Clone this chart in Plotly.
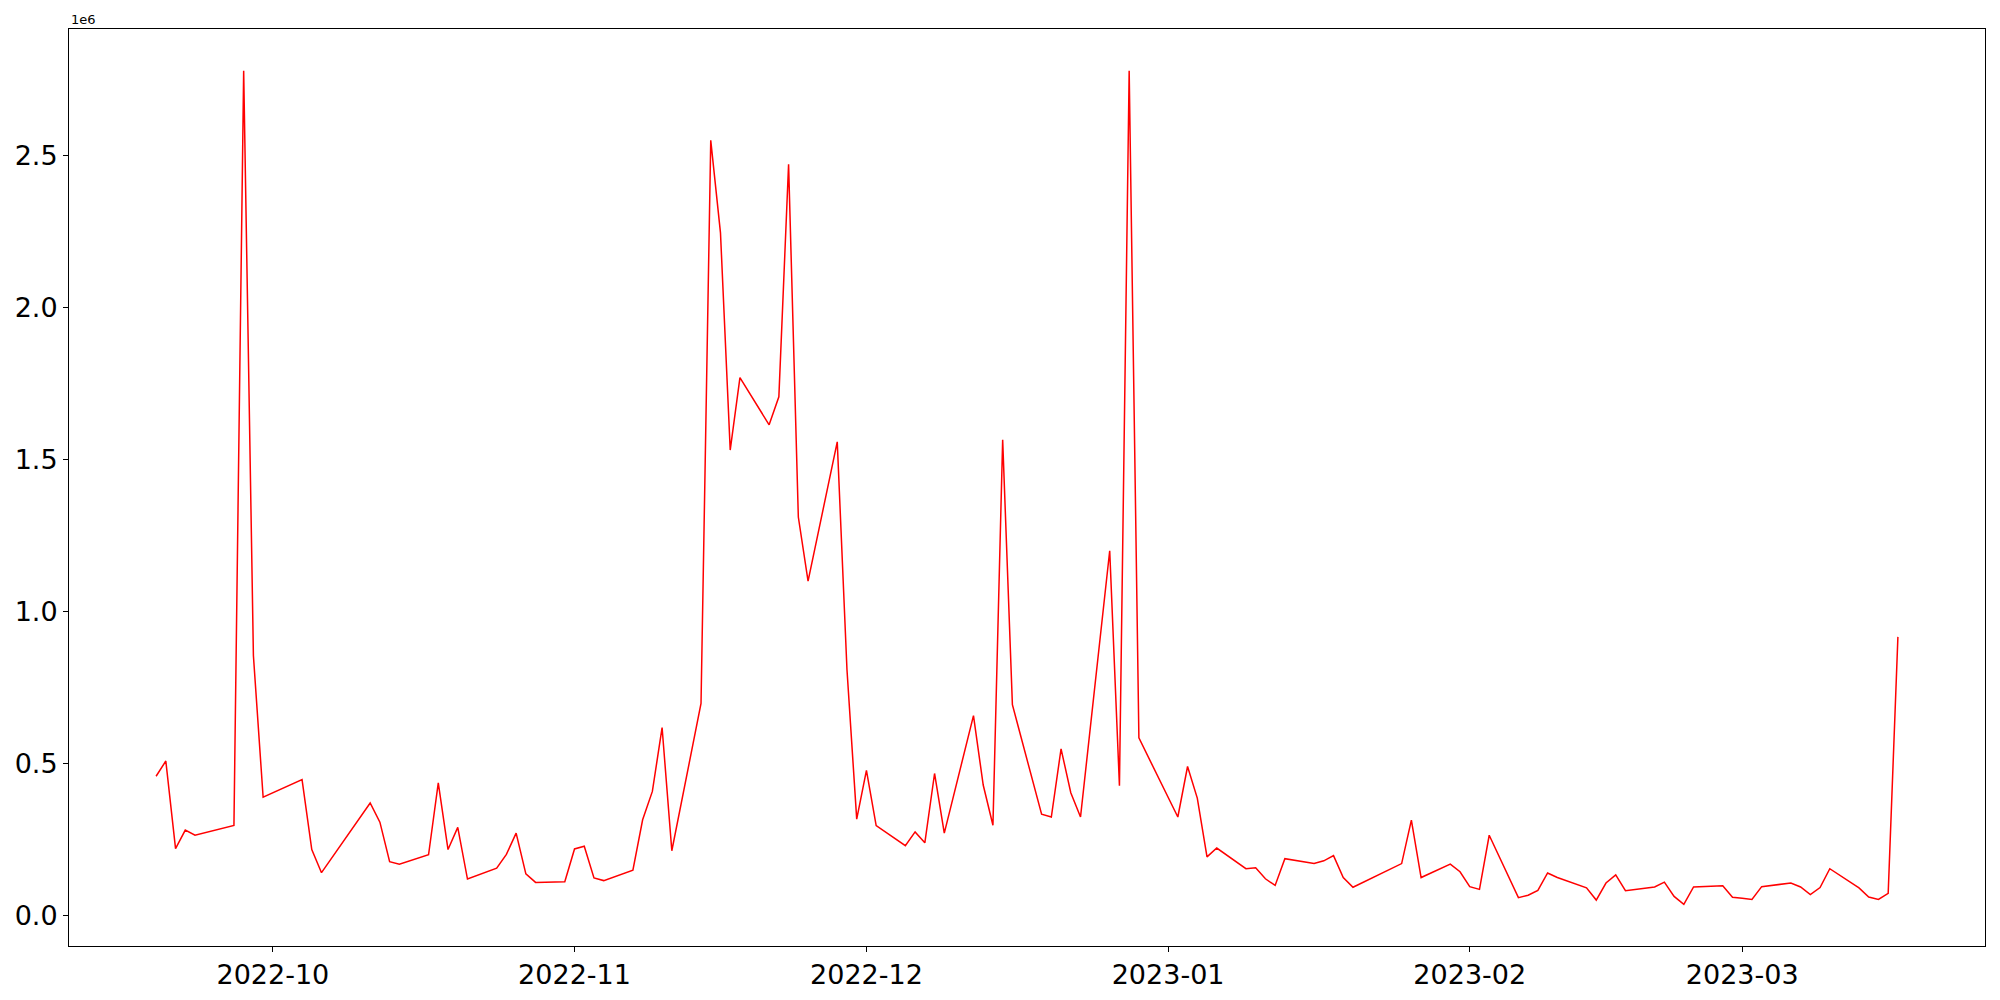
import pandas as pd
import plotly.graph_objects as go

# daily values
dates = [
    "2022-09-19", "2022-09-20", "2022-09-21", "2022-09-22", "2022-09-23",
    "2022-09-27", "2022-09-28", "2022-09-29", "2022-09-30",
    "2022-10-04", "2022-10-05", "2022-10-06",
    "2022-10-11", "2022-10-12", "2022-10-13", "2022-10-14",
    "2022-10-17", "2022-10-18", "2022-10-19", "2022-10-20", "2022-10-21",
    "2022-10-24", "2022-10-25", "2022-10-26", "2022-10-27", "2022-10-28",
    "2022-10-31", "2022-11-01", "2022-11-02", "2022-11-03", "2022-11-04",
    "2022-11-07", "2022-11-08", "2022-11-09", "2022-11-10", "2022-11-11",
    "2022-11-14", "2022-11-15", "2022-11-16", "2022-11-17", "2022-11-18",
    "2022-11-21", "2022-11-22", "2022-11-23", "2022-11-24", "2022-11-25",
    "2022-11-28", "2022-11-29", "2022-11-30", "2022-12-01", "2022-12-02",
    "2022-12-05", "2022-12-06", "2022-12-07", "2022-12-08", "2022-12-09",
    "2022-12-12", "2022-12-13", "2022-12-14", "2022-12-15", "2022-12-16",
    "2022-12-19", "2022-12-20", "2022-12-21", "2022-12-22", "2022-12-23",
    "2022-12-26", "2022-12-27", "2022-12-28", "2022-12-29",
    "2023-01-02", "2023-01-03", "2023-01-04", "2023-01-05", "2023-01-06",
    "2023-01-09", "2023-01-10", "2023-01-11", "2023-01-12", "2023-01-13",
    "2023-01-16", "2023-01-17", "2023-01-18", "2023-01-19", "2023-01-20",
    "2023-01-25", "2023-01-26", "2023-01-27",
    "2023-01-30", "2023-01-31", "2023-02-01", "2023-02-02", "2023-02-03",
    "2023-02-06", "2023-02-07", "2023-02-08", "2023-02-09", "2023-02-10",
    "2023-02-13", "2023-02-14", "2023-02-15", "2023-02-16", "2023-02-17",
    "2023-02-20", "2023-02-21", "2023-02-22", "2023-02-23", "2023-02-24",
    "2023-02-27", "2023-02-28", "2023-03-01", "2023-03-02", "2023-03-03",
    "2023-03-06", "2023-03-07", "2023-03-08", "2023-03-09", "2023-03-10",
    "2023-03-13", "2023-03-14", "2023-03-15", "2023-03-16", "2023-03-17",
]

values = [
    459000, 509000, 221000, 282000, 265000,
    297000, 2778000, 856000, 390000,
    448000, 218000, 142000,
    371000, 308000, 178000, 170000,
    201000, 437000, 218000, 291000, 121000,
    157000, 202000, 272000, 138000, 110000,
    112000, 220000, 229000, 125000, 116000,
    150000, 316000, 409000, 619000, 214000,
    698000, 2549000, 2245000, 1531000, 1769000,
    1614000, 1706000, 2470000, 1311000, 1100000,
    1558000, 809000, 318000, 478000, 297000,
    231000, 276000, 240000, 468000, 272000,
    658000, 430000, 298000, 1565000, 694000,
    334000, 325000, 549000, 405000, 325000,
    1200000, 428000, 2778000, 585000,
    325000, 491000, 387000, 194000, 223000,
    155000, 158000, 122000, 100000, 188000,
    172000, 181000, 198000, 126000, 94000,
    172000, 315000, 126000,
    170000, 145000, 96000, 87000, 265000,
    60000, 68000, 84000, 141000, 126000,
    92000, 52000, 108000, 135000, 83000,
    95000, 111000, 64000, 38000, 95000,
    99000, 61000, 58000, 54000, 96000,
    108000, 95000, 70000, 93000, 155000,
    92000, 62000, 54000, 74000, 917000,
]

x_tick_vals = ["2022-10-01", "2022-11-01", "2022-12-01",
               "2023-01-01", "2023-02-01", "2023-03-01"]
x_tick_text = ["2022-10", "2022-11", "2022-12", "2023-01", "2023-02", "2023-03"]
y_tick_vals = [0, 500000, 1000000, 1500000, 2000000, 2500000]
y_tick_text = ["0.0", "0.5", "1.0", "1.5", "2.0", "2.5"]

df = pd.DataFrame({"date": pd.to_datetime(dates), "value": values})

# matplotlib-like 5% padding on both axes
xpad = (df.date.max() - df.date.min()) * 0.05
ypad = (df.value.max() - df.value.min()) * 0.05

fig = go.Figure(go.Scatter(x=df.date, y=df.value, mode="lines",
                           line=dict(color="red", width=1.5)))

axis_style = dict(showline=True, mirror=True, linecolor="black", linewidth=1,
                  ticks="outside", ticklen=5, tickcolor="black",
                  showgrid=False, zeroline=False, automargin=False,
                  tickfont=dict(family="DejaVu Sans", size=27, color="black"))

fig.update_xaxes(range=[df.date.min() - xpad, df.date.max() + xpad],
                 tickvals=x_tick_vals, ticktext=x_tick_text, **axis_style)
fig.update_yaxes(range=[df.value.min() - ypad, df.value.max() + ypad],
                 tickvals=y_tick_vals, ticktext=y_tick_text, **axis_style)

fig.add_annotation(text="1e6", xref="paper", yref="paper", x=0, y=1,
                   xanchor="left", yanchor="bottom", showarrow=False,
                   font=dict(family="DejaVu Sans", size=13, color="black"))

# page body adds an 8px offset, so the figure is a bit smaller than the window
fig.update_layout(width=1992, height=984, autosize=False,
                  margin=dict(l=61, r=15, t=21, b=46),
                  plot_bgcolor="white", paper_bgcolor="white",
                  showlegend=False)

fig.write_html("out.html")
